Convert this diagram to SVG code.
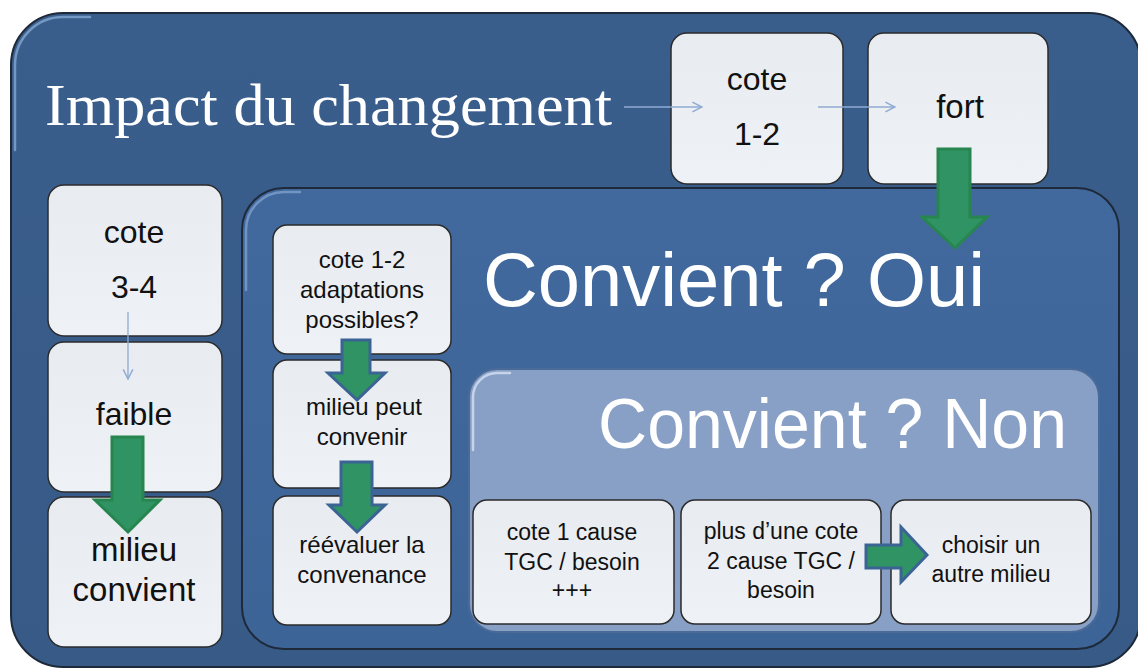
<svg xmlns="http://www.w3.org/2000/svg" width="1138" height="671" viewBox="0 0 1138 671">
<defs>
<linearGradient id="gOuter" x1="0" y1="0" x2="0" y2="1">
<stop offset="0" stop-color="#3a5e8c"/><stop offset="1" stop-color="#375a87"/>
</linearGradient>
<linearGradient id="gOui" x1="0" y1="0" x2="0" y2="1">
<stop offset="0" stop-color="#42699d"/><stop offset="1" stop-color="#3d6497"/>
</linearGradient>
<linearGradient id="gBox" x1="0" y1="0" x2="0" y2="1">
<stop offset="0" stop-color="#e8ebf0"/><stop offset="1" stop-color="#eef1f6"/>
</linearGradient>
<marker id="thin" viewBox="0 0 10 10" refX="9" refY="5" markerWidth="12" markerHeight="12" markerUnits="userSpaceOnUse" orient="auto">
<path d="M1,1 L9,5 L1,9" fill="none" stroke="#8fabd2" stroke-width="1.2"/>
</marker>
<style>
.box{fill:url(#gBox);stroke:#2b2b2b;stroke-width:1.5}
.t{font-family:"Liberation Sans",Arial,sans-serif;fill:#111;text-anchor:middle}
.big{font-family:"Liberation Sans",Arial,sans-serif;fill:#ffffff}
.conn{stroke:#8fabd2;stroke-width:1.3;fill:none}
.ga{fill:#2f9363;stroke:#27864f;stroke-width:3;stroke-linejoin:miter}
.gb{fill:#2f9363;stroke:#3b6494;stroke-width:3;stroke-linejoin:miter}
.hl{fill:none;stroke-width:2.5;stroke-linecap:round}
</style>
</defs>

<g id="panel">
<rect x="11" y="13" width="1130" height="654" rx="52" fill="url(#gOuter)" stroke="#1e2a3a" stroke-width="2"/>
<path class="hl" d="M15,150 L15,65 A48,48 0 0 1 63,17 L90,17" stroke="#8fb0da" opacity="0.7"/>
<text x="45" y="125" font-family="'Liberation Serif','Times New Roman',serif" font-size="60" fill="#ffffff" textLength="567" lengthAdjust="spacingAndGlyphs">Impact du changement</text>
</g>

<g id="oui">
<rect x="242" y="188" width="877" height="461" rx="42" fill="url(#gOui)" stroke="#1e2a3a" stroke-width="2"/>
<path class="hl" d="M246,290 L246,230 A38,38 0 0 1 284,192 L300,192" stroke="#7e9fcc" opacity="0.8"/>
<text class="big" x="483" y="306" font-size="76" textLength="502" lengthAdjust="spacingAndGlyphs">Convient ? Oui</text>
</g>

<g id="non">
<rect x="469" y="369" width="630" height="263" rx="28" fill="#889fc6" stroke="#4a6a98" stroke-width="2"/>
<path class="hl" d="M473,450 L473,397 A24,24 0 0 1 497,373 L510,373" stroke="#c6d4ea"/>
<text class="big" x="598" y="448" font-size="70" textLength="469" lengthAdjust="spacingAndGlyphs">Convient  ? Non</text>
</g>

<g id="cote12">
<rect class="box" x="671" y="33" width="172" height="151" rx="16"/>
<text class="t" x="757" y="90" font-size="32">cote</text>
<text class="t" x="757" y="145" font-size="32">1-2</text>
</g>

<g id="fort">
<rect class="box" x="868" y="33" width="180" height="151" rx="16"/>
<text class="t" x="960" y="118" font-size="33">fort</text>
</g>

<g id="cote34">
<rect class="box" x="48" y="185" width="174" height="151" rx="16"/>
<text class="t" x="134" y="243" font-size="32">cote</text>
<text class="t" x="134" y="298" font-size="32">3-4</text>
</g>

<g id="faible">
<rect class="box" x="48" y="342" width="174" height="150" rx="16"/>
<text class="t" x="134" y="425" font-size="32">faible</text>
</g>

<g id="milieuConvient">
<rect class="box" x="48" y="497" width="174" height="150" rx="16"/>
<text class="t" x="134" y="561" font-size="33">milieu</text>
<text class="t" x="134" y="601" font-size="33">convient</text>
</g>

<g id="adaptations">
<rect class="box" x="273" y="225" width="178" height="129" rx="14"/>
<text class="t" x="362" y="268" font-size="24">cote 1-2</text>
<text class="t" x="362" y="298" font-size="24">adaptations</text>
<text class="t" x="362" y="328" font-size="24">possibles?</text>
</g>

<g id="peutConvenir">
<rect class="box" x="273" y="360" width="178" height="128" rx="14"/>
<text class="t" x="364" y="415" font-size="24">milieu peut</text>
<text class="t" x="362" y="445" font-size="24">convenir</text>
</g>

<g id="reevaluer">
<rect class="box" x="273" y="496" width="178" height="129" rx="14"/>
<text class="t" x="362" y="553" font-size="24">réévaluer  la</text>
<text class="t" x="362" y="583" font-size="24">convenance</text>
</g>

<g id="cote1cause">
<rect class="box" x="473" y="500" width="201" height="124" rx="14"/>
<text class="t" x="572" y="540" font-size="23">cote 1 cause</text>
<text class="t" x="572" y="570" font-size="23">TGC / besoin</text>
<text class="t" x="572" y="598" font-size="23">+++</text>
</g>

<g id="plusUneCote">
<rect class="box" x="681" y="500" width="200" height="124" rx="14"/>
<text class="t" x="781" y="539" font-size="23">plus d’une cote</text>
<text class="t" x="781" y="569" font-size="23">2 cause TGC /</text>
<text class="t" x="781" y="598" font-size="23">besoin</text>
</g>

<g id="choisir">
<rect class="box" x="891" y="500" width="200" height="124" rx="14"/>
<text class="t" x="991" y="553" font-size="23">choisir un</text>
<text class="t" x="991" y="582" font-size="23">autre milieu</text>
</g>

<g id="connectors">
<line class="conn" x1="624" y1="107" x2="702" y2="107" marker-end="url(#thin)"/>
<line class="conn" x1="818" y1="107" x2="895" y2="107" marker-end="url(#thin)"/>
<line class="conn" x1="128" y1="312" x2="128" y2="379" marker-end="url(#thin)"/>
<path class="ga" d="M938,149 L970,149 L970,217 L987,217 L955,248 L922,217 L938,217 Z"/>
<path class="ga" d="M112,437 L143,437 L143,500 L160,500 L128,532 L95,500 L112,500 Z"/>
<path class="gb" d="M342,340 L370,340 L370,373 L385,373 L357,400 L328,373 L342,373 Z"/>
<path class="gb" d="M341,462 L372,462 L372,505 L385,505 L357,532 L329,505 L341,505 Z"/>
<path class="gb" d="M866,545 L901,545 L901,527 L927,555 L901,582 L901,568 L866,568 Z"/>
</g>
</svg>
